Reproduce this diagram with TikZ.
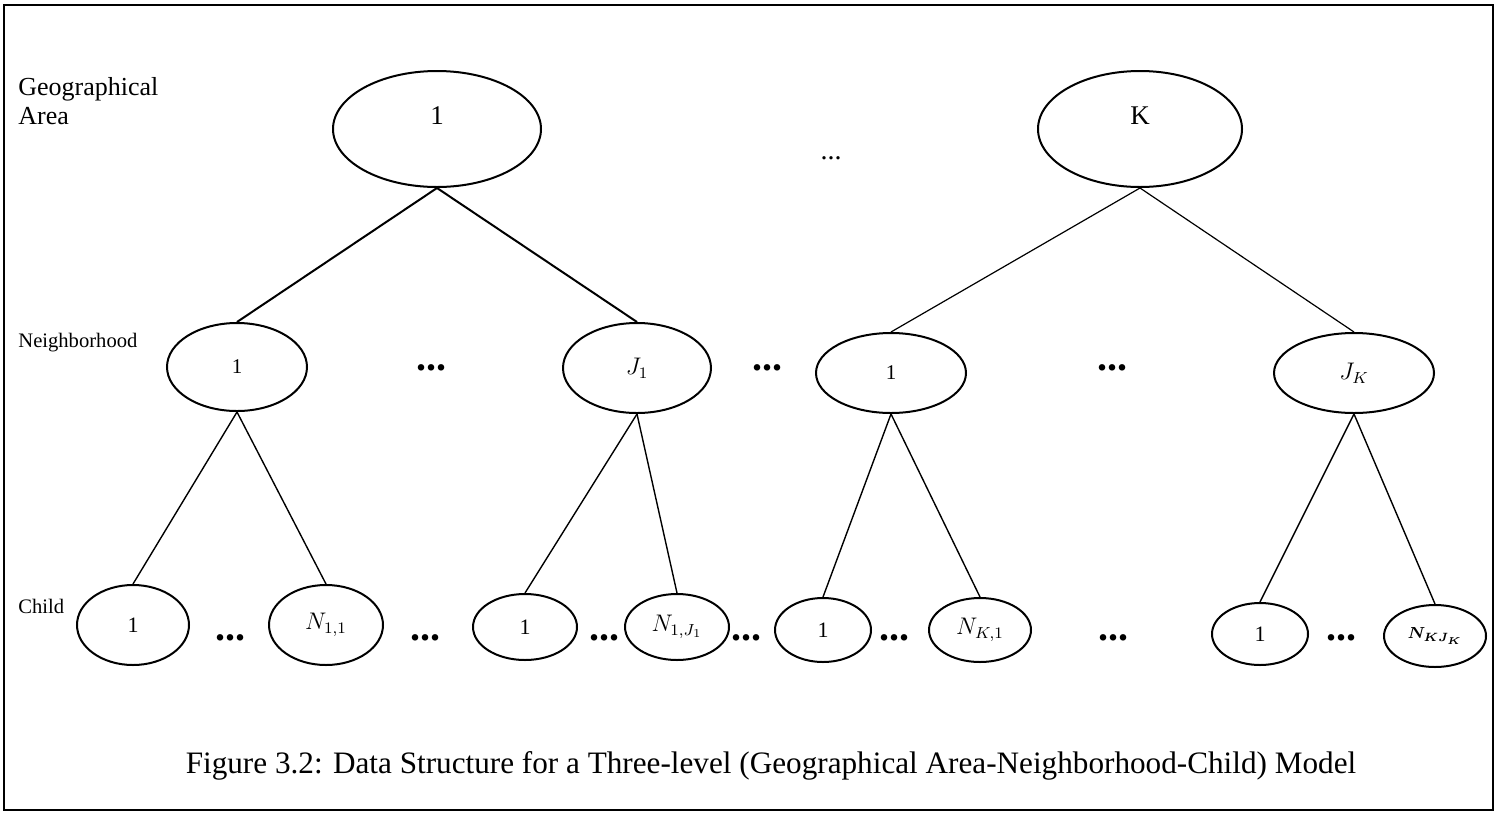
\documentclass[tikz,border=0pt]{standalone}
\usepackage{amsmath}
\usepackage{fontspec}
\setmainfont{Liberation Serif}
\usetikzlibrary{shapes.geometric}

\begin{document}
\begin{tikzpicture}[x=0.5pt, y=-0.5pt,
  oval/.style={draw, ellipse, line width=1pt, inner sep=0pt},
  areanode/.style={oval, text depth=13pt, font=\fontsize{13.5}{13.5}\selectfont},
  nbnode/.style={oval, font=\fontsize{10.5}{10.5}\selectfont},
  childnode/.style={oval, font=\fontsize{11}{11}\selectfont},
  bolddots/.style={inner sep=0pt, font=\fontsize{20}{20}\selectfont\bfseries},
  branch/.style={line width=0.7pt}]

\useasboundingbox (0, 0) rectangle (1498, 814);

% Frame
\draw[line width=1pt] (4, 5) rectangle (1493, 810);

% Write
\node[anchor=north west, inner sep=0pt, align=left, font=\fontsize{13}{14.5}\selectfont] (lvlarea) at (18, 77) {Geographical\\Area};
\node[anchor=base west, inner sep=0pt, font=\fontsize{10.3}{12}\selectfont] (lvlnb) at (18, 347) {Neighborhood};
\node[anchor=base west, inner sep=0pt, font=\fontsize{10.3}{12}\selectfont] (lvlchild) at (18, 613) {Child};

% Areas
\node[areanode, minimum width=104pt, minimum height=58pt] (ga1) at (437, 129) {1};
\node[areanode, minimum width=102pt, minimum height=58pt] (gaK) at (1140, 129) {K};
\node[inner sep=0pt, font=\fontsize{14}{14}\selectfont] (gadots) at (831, 158) {...};

% Neighborhoods
\node[nbnode, minimum width=70pt, minimum height=44pt] (nb11) at (237, 367) {1};
\node[nbnode, minimum width=74pt, minimum height=45pt, font=\fontsize{12}{12}\selectfont] (nb1J) at (637, 368) {$J_1$};
\node[nbnode, minimum width=75pt, minimum height=40pt] (nbK1) at (891, 373) {1};
\node[nbnode, minimum width=80pt, minimum height=40pt, font=\fontsize{11.5}{11.5}\selectfont] (nbKJ) at (1354, 373) {$J_K$};

\node[bolddots] (nbdots1) at (431, 368) {...};
\node[bolddots] (nbdots2) at (767, 368) {...};
\node[bolddots] (nbdots3) at (1112, 368) {...};

% Children
\node[childnode, minimum width=56pt, minimum height=40pt] (c11) at (133, 625) {1};
\node[childnode, minimum width=57pt, minimum height=40pt, font=\fontsize{12}{12}\selectfont] (c12) at (326, 625) {$N_{1,1}$};
\node[childnode, minimum width=52pt, minimum height=33pt] (c21) at (525, 627) {1};
\node[childnode, minimum width=52pt, minimum height=33pt, font=\fontsize{12}{12}\selectfont] (c22) at (677, 627) {$N_{1,J_1}$};
\node[childnode, minimum width=48pt, minimum height=32pt] (c31) at (823, 630) {1};
\node[childnode, minimum width=51pt, minimum height=32pt, font=\fontsize{12}{12}\selectfont] (c32) at (980, 630) {$N_{K,1}$};
\node[childnode, minimum width=48pt, minimum height=31pt] (c41) at (1260, 634) {1};
\node[oval, minimum width=51pt, minimum height=31pt, font=\fontsize{8.5}{8.5}\selectfont] (c42) at (1435, 636) {$\boldsymbol{N_{KJ_K}}$};

\node[bolddots] (chdots1) at (230, 638) {...};
\node[bolddots] (chdots2) at (425, 638) {...};
\node[bolddots] (chdots3) at (604, 638) {...};
\node[bolddots] (chdots4) at (746, 638) {...};
\node[bolddots] (chdots5) at (894, 638) {...};
\node[bolddots] (chdots6) at (1113, 638) {...};
\node[bolddots] (chdots7) at (1341, 638) {...};

% Links
\draw[line width=1pt] (ga1.south) -- (nb11.north);
\draw[line width=1pt] (ga1.south) -- (nb1J.north);
\draw[line width=0.6pt] (gaK.south) -- (nbK1.north);
\draw[line width=0.6pt] (gaK.south) -- (nbKJ.north);

\draw[branch] (nb11.south) -- (c11.north);
\draw[branch] (nb11.south) -- (c12.north);
\draw[branch] (nb1J.south) -- (c21.north);
\draw[branch] (nb1J.south) -- (c22.north);
\draw[branch] (nbK1.south) -- (c31.north);
\draw[branch] (nbK1.south) -- (c32.north);
\draw[branch] (nbKJ.south) -- (c41.north);
\draw[branch] (nbKJ.south) -- (c42.north);

% Caption
\node[anchor=base, inner sep=0pt, font=\fontsize{15.6}{18}\selectfont] (caption) at (771, 773) {Figure 3.2: Data Structure for a Three-level (Geographical Area-Neighborhood-Child) Model};

\end{tikzpicture}
\end{document}
